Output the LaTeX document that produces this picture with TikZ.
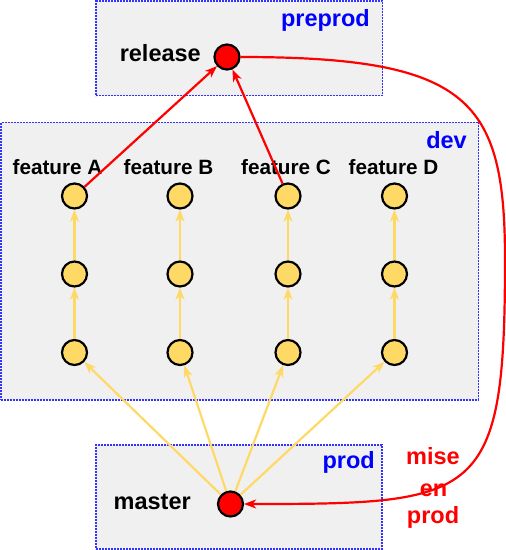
\documentclass[tikz,border=0pt]{standalone}
\usepackage{fontspec}
\setmainfont{Liberation Sans}
\usetikzlibrary{arrows.meta}
\definecolor{boxfill}{HTML}{F0F0F0}
\definecolor{boxline}{HTML}{3333FF}
\definecolor{commit}{HTML}{FFD966}
\definecolor{redc}{HTML}{FF0000}
\definecolor{bluet}{HTML}{0000FF}
\begin{document}
\begin{tikzpicture}[x=1pt,y=-1pt,
  box/.style={draw=boxline, fill=boxfill, line width=1.5pt, dash pattern=on 2pt off 1pt, inner sep=0pt, outer sep=0pt, rectangle},
  yc/.style={circle, draw=black, line width=2.2pt, fill=commit, minimum size=25pt, inner sep=0pt},
  rc/.style={circle, draw=black, line width=2.2pt, fill=redc, minimum size=25pt, inner sep=0pt},
  big/.style={font=\fontsize{23.5}{27}\selectfont\bfseries, inner sep=0pt},
  feat/.style={font=\fontsize{20.7}{24}\selectfont\bfseries, inner sep=0pt, anchor=base},
  yarr/.style={draw=commit, line width=2.2pt, -{Stealth[length=12pt,width=9pt,inset=3.5pt]}},
  rarr/.style={draw=redc, line width=2.2pt, -{Stealth[length=12pt,width=9pt,inset=3.5pt]}}
]
\useasboundingbox (0,0) rectangle (506,550);
% boxes
\node[box, minimum width=286.5pt, minimum height=94.5pt] (preprodbox) at (239.25,48.25) {};
\node[box, minimum width=477.5pt, minimum height=277.5pt] (devbox) at (239.75,261) {};
\node[box, minimum width=286pt, minimum height=104pt] (prodbox) at (239,497) {};
% box titles
\node[big, text=bluet, anchor=base east] (tpre) at (370,26) {preprod};
\node[big, text=bluet, anchor=base east] (tdev) at (467,148) {dev};
\node[big, text=bluet, anchor=base east] (tprod) at (375,468) {prod};
% labels
\node[big, anchor=base east] (trel) at (201,61) {release};
\node[big, anchor=base east] (tmas) at (191,509) {master};
\node[feat] (fa) at (57.5,174) {feature A};
\node[feat] (fb) at (168.5,174) {feature B};
\node[feat] (fc) at (286,174) {feature C};
\node[feat] (fd) at (393.5,174) {feature D};
% commits
\node[rc] (rel) at (227,57) {};
\node[rc] (mas) at (230.5,504) {};
\foreach \n/\x in {a/74.5,b/180,c/288,d/394.5}{
  \node[yc] (\n1) at (\x,352.5) {};
  \node[yc] (\n2) at (\x,274) {};
  \node[yc] (\n3) at (\x,196) {};
}
% yellow arrows
\foreach \n in {a,b,c,d}{
  \draw[yarr] (\n1) -- (\n2);
  \draw[yarr] (\n2) -- (\n3);
  \draw[yarr] (mas) -- (\n1);
}
% red arrows
\draw[rarr] (a3) -- (rel);
\draw[rarr] (c3) -- (rel);
\draw[rarr] (rel.east) .. controls (470,57) and (505,100) .. (505,260)
  .. controls (505,500) and (480,504) .. (mas.east);
% mise en prod
\node[big, text=redc, anchor=base] (m1) at (433,464) {mise};
\node[big, text=redc, anchor=base] (m2) at (433.5,496) {en};
\node[big, text=redc, anchor=base] (m3) at (433,523) {prod};
\end{tikzpicture}
\end{document}
